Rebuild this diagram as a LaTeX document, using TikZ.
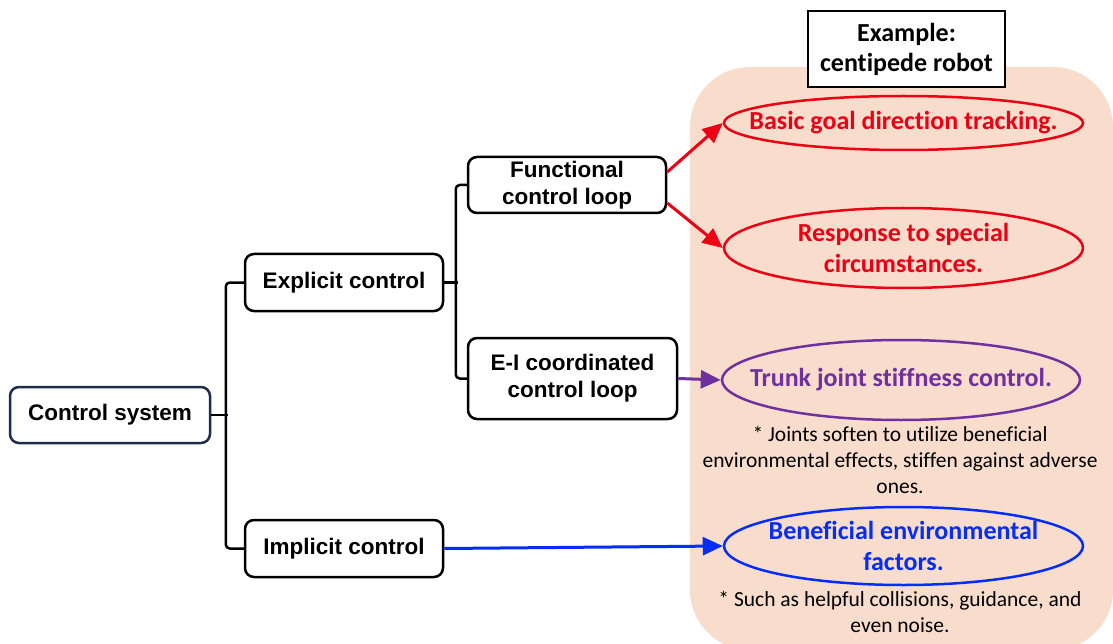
\documentclass[tikz,border=0pt]{standalone}
\usepackage{fontspec}
\setmainfont{Liberation Sans}
\newfontfamily\calfont[Ligatures=NoCommon]{Carlito}
\usetikzlibrary{arrows.meta,shapes.geometric}
\definecolor{peachbg}{RGB}{248,221,205}
\definecolor{myred}{RGB}{235,0,20}
\definecolor{mypurple}{RGB}{112,48,160}
\definecolor{myblue}{RGB}{5,45,250}
\definecolor{navy}{RGB}{30,45,75}
\tikzset{
  treebox/.style={draw=black, line width=2.5pt, rounded corners=9pt, fill=white, align=center,
    font=\bfseries\fontsize{22.5}{27}\selectfont, inner sep=0pt, minimum height=56pt},
  conn/.style={draw=black, line width=2.5pt, rounded corners=4pt},
  oval/.style={ellipse, draw, line width=2.5pt, inner sep=0pt, minimum width=359pt},
  ovaltext/.style={align=center, inner sep=0pt, font=\calfont\bfseries\fontsize{26}{31}\selectfont},
  note/.style={align=center, font=\calfont\fontsize{21.5}{26}\selectfont, inner sep=0pt},
  arr/.style={line width=3pt, -{Triangle[length=20pt,width=18pt]}}
}
\begin{document}
\begin{tikzpicture}[x=1pt,y=-1pt]
\useasboundingbox (0,0) rectangle (1113,644);
\fill[white] (0,0) rectangle (1113,644);
\fill[peachbg, rounded corners=60pt] (690,67) rectangle (1113,650);
% example label
\node[draw=black, line width=2.5pt, fill=white, minimum width=197pt, minimum height=76pt, inner sep=0pt,
  align=center, font=\calfont\bfseries\fontsize{26}{30}\selectfont] (ex) at (906.5,49) {Example:\\centipede robot};
% tree
\node[treebox, draw=navy, minimum width=200pt] (cs) at (110,415) {Control system};
\node[treebox, minimum width=198pt, minimum height=57pt] (ec) at (344,282.5) {Explicit control};
\node[treebox, minimum width=198pt, minimum height=57pt] (ic) at (344,548.5) {Implicit control};
\node[treebox, minimum width=198pt] (fcl) at (567,185) {Functional\\control loop};
\node[treebox, minimum width=209pt, minimum height=81pt] (eic) at (572.5,378.5) {E-I coordinated\\control loop};
\draw[conn] (cs.east) -- ++(17,0);
\draw[conn] (ec.west) -- ++(-18,0) |- (ic.west);
\draw[conn] (ec.east) -- ++(14,0);
\draw[conn] (fcl.west) -- ++(-11,0) |- (eic.west);
% ovals
\node[oval, draw=myred, minimum height=54pt] (o1) at (903.5,123) {};
\node[ovaltext, text=myred] (t1) at (o1.center) {Basic goal direction tracking.};
\node[oval, draw=myred, minimum height=80pt] (o2) at (903.5,248) {};
\node[ovaltext, text=myred] (t2) at (o2.center) {Response to special\\circumstances.};
\node[oval, draw=mypurple, minimum width=358pt, minimum height=80pt] (o3) at (901,380) {};
\node[ovaltext, text=mypurple] (t3) at (o3.center) {Trunk joint stiffness control.};
\node[oval, draw=myblue, minimum height=78pt] (o4) at (903.5,546) {};
\node[ovaltext, text=myblue] (t4) at (o4.center) {Beneficial environmental\\factors.};
\node[note] (n1) at (900,460) {* Joints soften to utilize beneficial\\environmental effects, stiffen against adverse\\ones.};
\node[note] (n2) at (900,612) {* Such as helpful collisions, guidance, and\\even noise.};
% arrows
\draw[arr, myred] ([yshift=13pt]fcl.east) -- (o1.west);
\draw[arr, myred] ([yshift=-18pt]fcl.east) -- (o2.west);
\draw[arr, mypurple] (eic.east) -- (o3.west);
\draw[arr, myblue] (ic.east) -- (o4.west);
\end{tikzpicture}
\end{document}
